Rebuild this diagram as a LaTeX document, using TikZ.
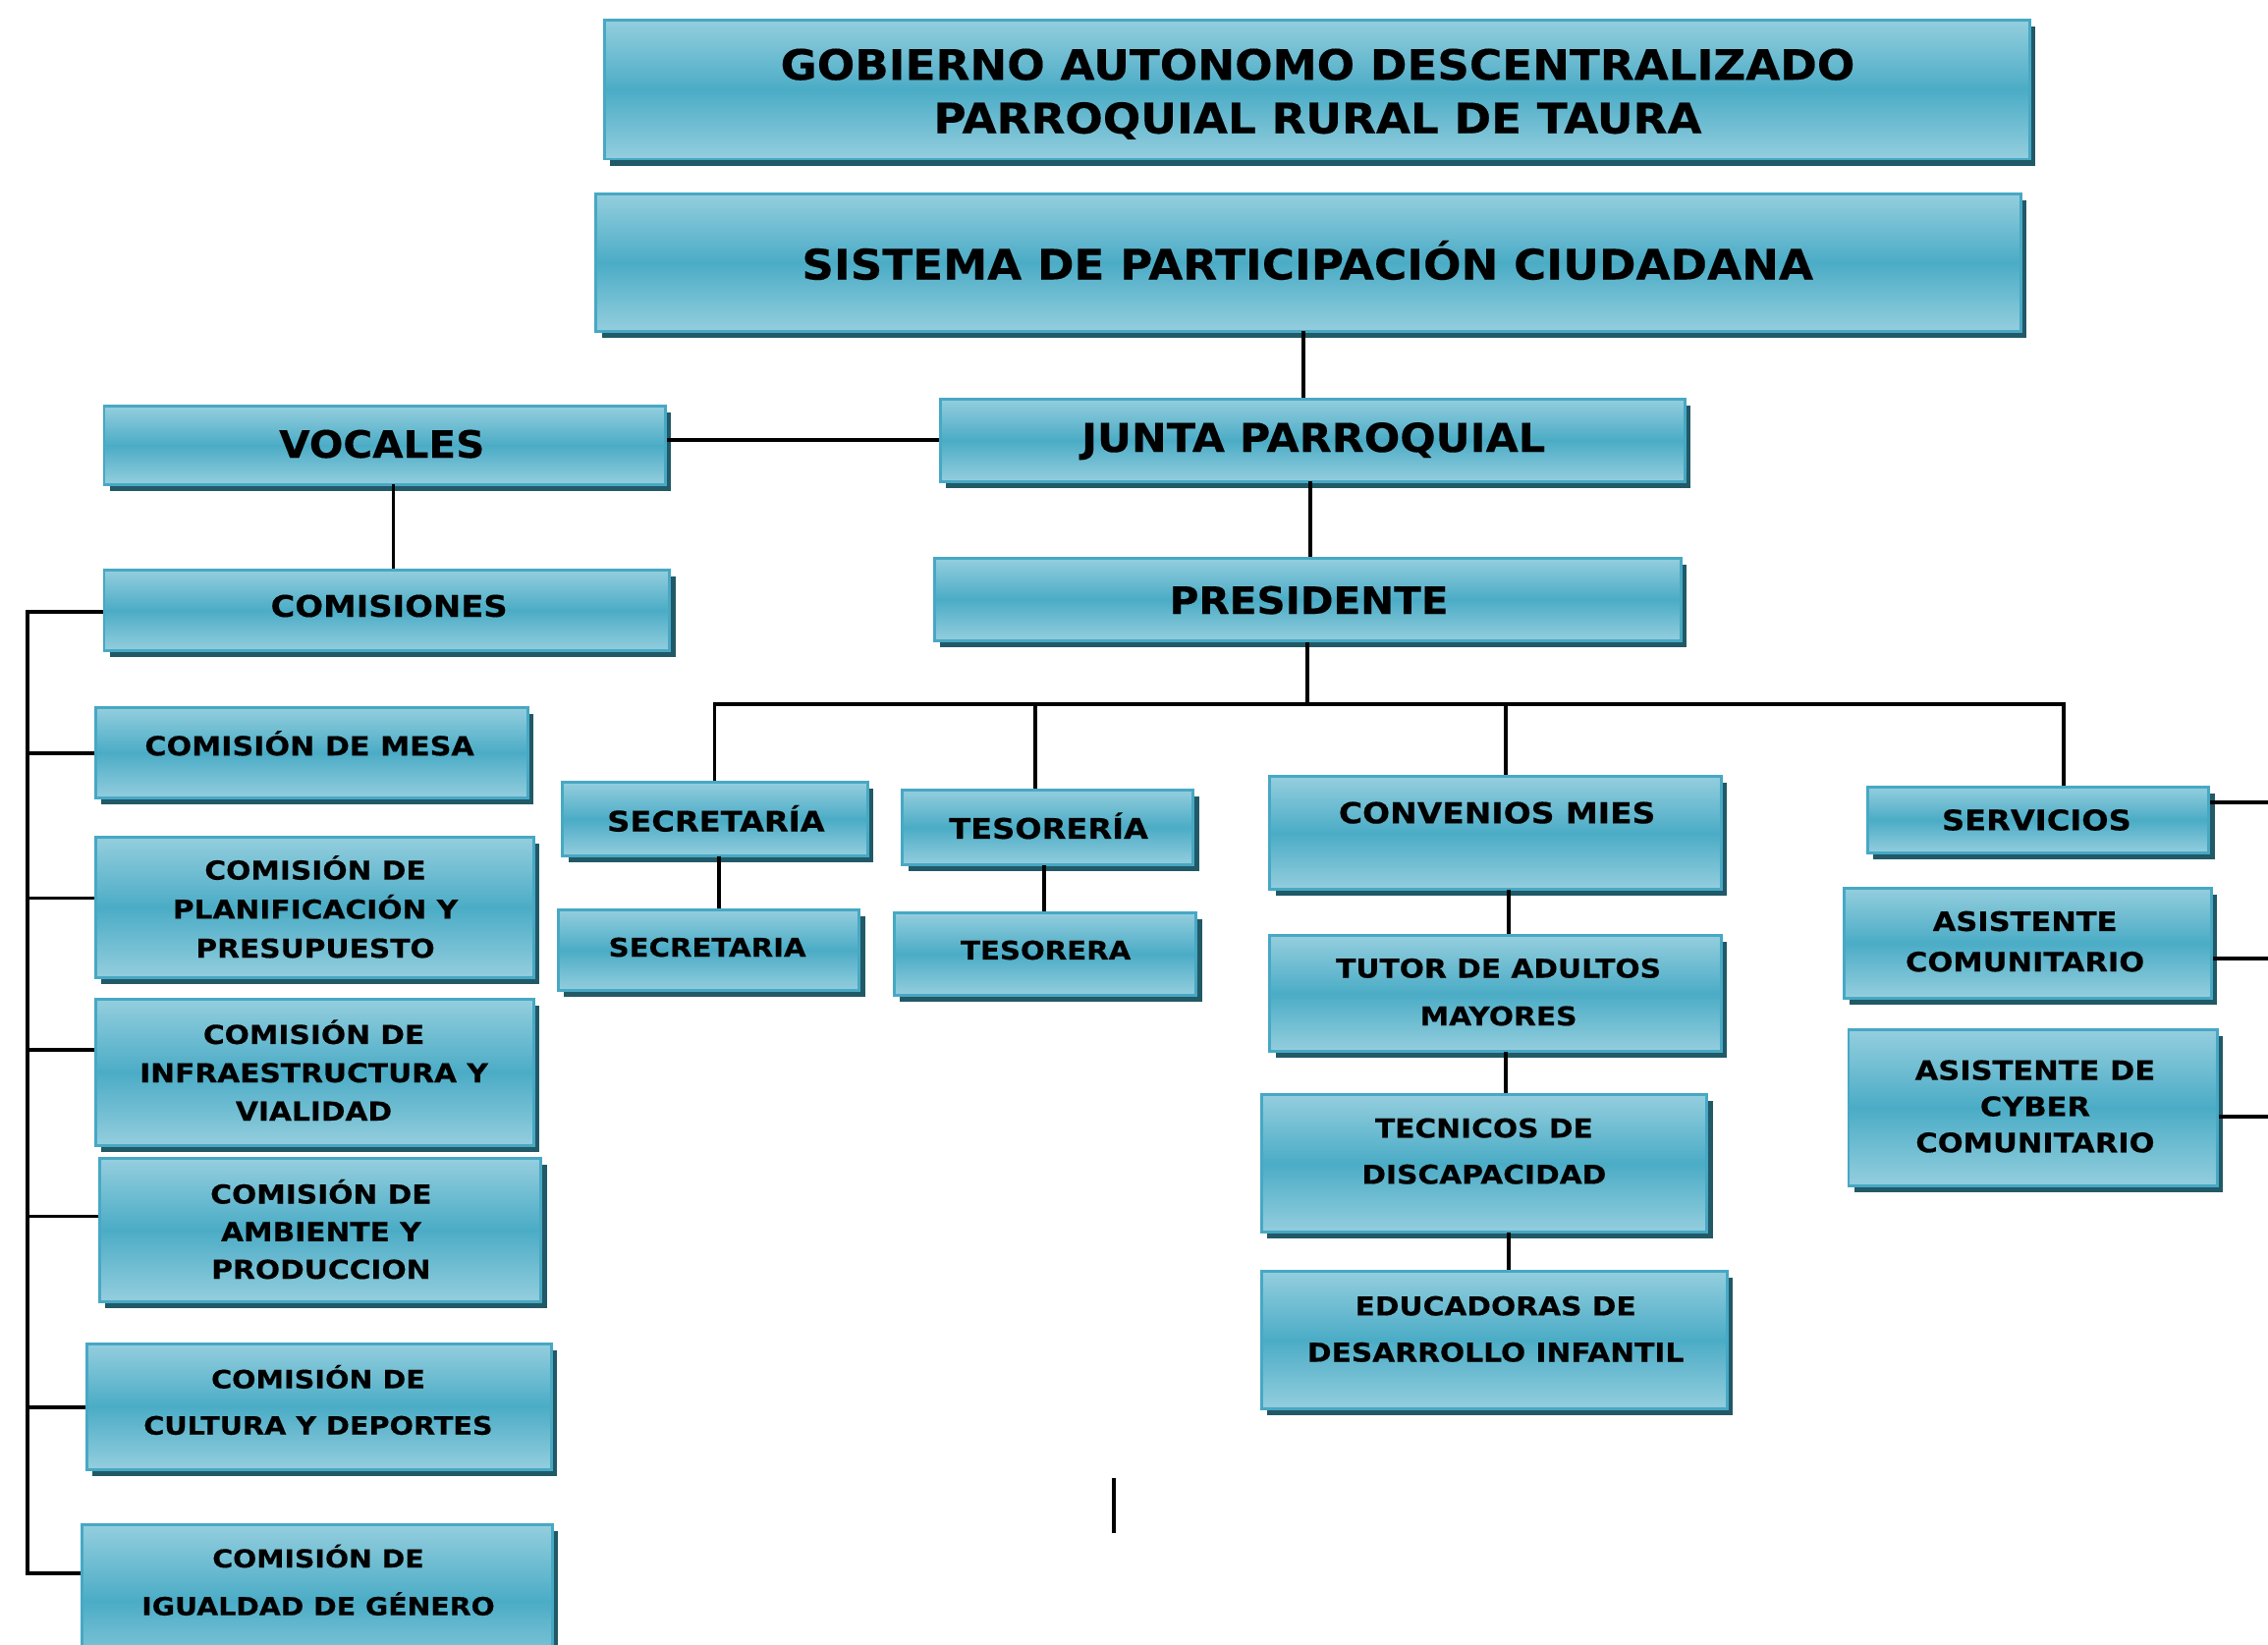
\documentclass[tikz,border=0pt]{standalone}
\usepackage{fontspec}
\usetikzlibrary{fit,shadows}
\newfontfamily\tfont{DejaVu Sans Bold}[FakeStretch=1.06, FakeBold=0.3]
\newfontfamily\wfont{DejaVu Sans Bold}[FakeStretch=1.12, FakeBold=0.4]
\definecolor{lightc}{HTML}{94CEDE}
\definecolor{midc}{HTML}{4BACC6}
\definecolor{bordc}{HTML}{47A8C4}
\definecolor{shadc}{HTML}{215967}
\tikzset{
  box/.style={draw=bordc, line width=2pt, top color=lightc, bottom color=lightc, middle color=midc,
    inner sep=0pt, drop shadow={shadow xshift=4pt, shadow yshift=-4.5pt, fill=shadc, opacity=1}},
  txt/.style={align=center, inner sep=0pt, text=black},
  big/.style 2 args={txt, font=\tfont\fontsize{#1}{#2}\selectfont},
  sml/.style 2 args={txt, font=\wfont\fontsize{#1}{#2}\selectfont},
  conn/.style={line width=2.6pt, black},
}
\begin{document}
\begin{tikzpicture}[x=1pt,y=-1pt]
\useasboundingbox[fill=white] (0,0) rectangle (1568,1137.4);
% boxes
\node[box, fit={(418,14) (1403,110)}] (gad) {};
\node[box, fit={(412,134) (1397,229)}] (spc) {};
\node[box, fit={(650,276) (1165,333)}] (junta) {};
\node[box, fit={(72,281) (460,335)}] (voc) {};
\node[box, fit={(72,394) (463,450)}] (comis) {};
\node[box, fit={(646,386) (1162,443)}] (pres) {};
\node[box, fit={(389,541) (600,592)}] (sec) {};
\node[box, fit={(624,546) (825,598)}] (tes) {};
\node[box, fit={(878,537) (1190,615)}] (conv) {};
\node[box, fit={(1291,544) (1527,590)}] (serv) {};
\node[box, fit={(386,629) (594,685)}] (sec2) {};
\node[box, fit={(618,631) (827,688)}] (tesa) {};
\node[box, fit={(878,647) (1190,727)}] (tutor) {};
\node[box, fit={(872,757) (1180,852)}] (tec) {};
\node[box, fit={(872,879) (1194,974)}] (edu) {};
\node[box, fit={(1275,614) (1529,690)}] (asis) {};
\node[box, fit={(1278,712) (1533,820)}] (cyber) {};
\node[box, fit={(66,489) (365,552)}] (mesa) {};
\node[box, fit={(66,579) (369,676)}] (plan) {};
\node[box, fit={(66,691) (369,792)}] (infra) {};
\node[box, fit={(69,801) (374,900)}] (amb) {};
\node[box, fit={(60,929) (381,1016)}] (cult) {};
\node[box, fit={(57,1054) (382,1160)}] (igual) {};
% texts
\node[big={29}{37}] (gadt) at (911,65) {GOBIERNO AUTONOMO DESCENTRALIZADO\\PARROQUIAL RURAL DE TAURA};
\node[big={29}{34}] (spct) at (904,180) {SISTEMA DE PARTICIPACIÓN CIUDADANA};
\node[big={27.5}{33}] (juntat) at (908,305) {JUNTA PARROQUIAL};
\node[big={26}{32}] (voct) at (264,307) {VOCALES};
\node[big={26}{32}] (prest) at (905,415) {PRESIDENTE};
\node[sml={20.5}{25}] (comist) at (269,419) {COMISIONES};
\node[sml={19.5}{25}] (sect) at (495,566) {SECRETARÍA};
\node[sml={19.5}{25}] (test) at (725,571) {TESORERÍA};
\node[sml={20}{25}] (convt) at (1035,562) {CONVENIOS MIES};
\node[sml={19.5}{25}] (servt) at (1408,567) {SERVICIOS};
\node[sml={17.7}{25}] (sec2t) at (489,655) {SECRETARIA};
\node[sml={17.7}{25}] (tesat) at (723,657) {TESORERA};
\node[sml={18}{33}] (tutort) at (1036,686) {TUTOR DE ADULTOS\\MAYORES};
\node[sml={18}{32}] (tect) at (1026,796) {TECNICOS DE\\DISCAPACIDAD};
\node[sml={18}{32}] (edut) at (1034,919) {EDUCADORAS DE\\DESARROLLO INFANTIL};
\node[sml={18.5}{28}] (asist) at (1400,651) {ASISTENTE\\COMUNITARIO};
\node[sml={18.5}{25}] (cybert) at (1407,765) {ASISTENTE DE\\CYBER\\COMUNITARIO};
\node[sml={18.3}{25}] (mesat) at (214,514) {COMISIÓN DE MESA};
\node[sml={18}{27}] (plant) at (218,627) {COMISIÓN DE\\PLANIFICACIÓN Y\\PRESUPUESTO};
\node[sml={18}{26.5}] (infrat) at (217,740) {COMISIÓN DE\\INFRAESTRUCTURA Y\\VIALIDAD};
\node[sml={18}{26}] (ambt) at (222,850) {COMISIÓN DE\\AMBIENTE Y\\PRODUCCION};
\node[sml={17.4}{32}] (cultt) at (220,968) {COMISIÓN DE\\CULTURA Y DEPORTES};
\node[sml={17.2}{33}] (igualt) at (220,1092.5) {COMISIÓN DE\\IGUALDAD DE GÉNERO};
% connectors: main tree
\coordinate (a1) at (901,229);
\draw[conn] (a1) -- (a1 |- junta.north);
\draw[conn] (junta.west) -- (junta.west -| voc.east);
\coordinate (a2) at (272,335);
\draw[conn] (a2) -- (a2 |- comis.north);
\coordinate (a3) at (906,333);
\draw[conn] (a3) -- (a3 |- pres.north);
\coordinate (bus) at (904,487);
\draw[conn] (pres.south -| bus) -- (bus);
\coordinate (d1) at (494,487);
\coordinate (d2) at (716,487);
\coordinate (d3) at (1041,487);
\coordinate (d4) at (1427,487);
\draw[conn] ([xshift=-1.3pt]d1) -- ([xshift=1.3pt]d4);
\draw[conn] (d1) -- (d1 |- sec.north);
\draw[conn] (d2) -- (d2 |- tes.north);
\draw[conn] (d3) -- (d3 |- conv.north);
\draw[conn] (d4) -- (d4 |- serv.north);
\coordinate (e1) at (497,592);
\draw[conn] (e1) -- (e1 |- sec2.north);
\coordinate (e2) at (722,598);
\draw[conn] (e2) -- (e2 |- tesa.north);
\coordinate (e3) at (1043,615);
\draw[conn] (e3) -- (e3 |- tutor.north);
\coordinate (e4) at (1041,727);
\draw[conn] (e4) -- (e4 |- tec.north);
\coordinate (e5) at (1043,852);
\draw[conn] (e5) -- (e5 |- edu.north);
% right side lines
\coordinate (r1) at (1575,555);
\coordinate (r2) at (1575,663);
\coordinate (r3) at (1575,772);
\draw[conn] (r1 -| serv.east) -- (r1);
\draw[conn] (r2 -| asis.east) -- (r2);
\draw[conn] (r3 -| cyber.east) -- (r3);
% left bus
\coordinate (l0) at (19,423);
\coordinate (l1) at (19,521);
\coordinate (l2) at (19,621);
\coordinate (l3) at (19,726);
\coordinate (l4) at (19,841);
\coordinate (l5) at (19,973);
\coordinate (l6) at (19,1088);
\draw[conn] ([yshift=1.3pt]l0) -- ([yshift=-1.3pt]l6);
\draw[conn] (l0) -- (l0 -| comis.west);
\draw[conn] (l1) -- (l1 -| mesa.west);
\draw[conn] (l2) -- (l2 -| plan.west);
\draw[conn] (l3) -- (l3 -| infra.west);
\draw[conn] (l4) -- (l4 -| amb.west);
\draw[conn] (l5) -- (l5 -| cult.west);
\draw[conn] (l6) -- (l6 -| igual.west);
% stray mark
\coordinate (s1) at (770,1022);
\coordinate (s2) at (770,1060);
\draw[conn] (s1) -- (s2);
\end{tikzpicture}
\end{document}
